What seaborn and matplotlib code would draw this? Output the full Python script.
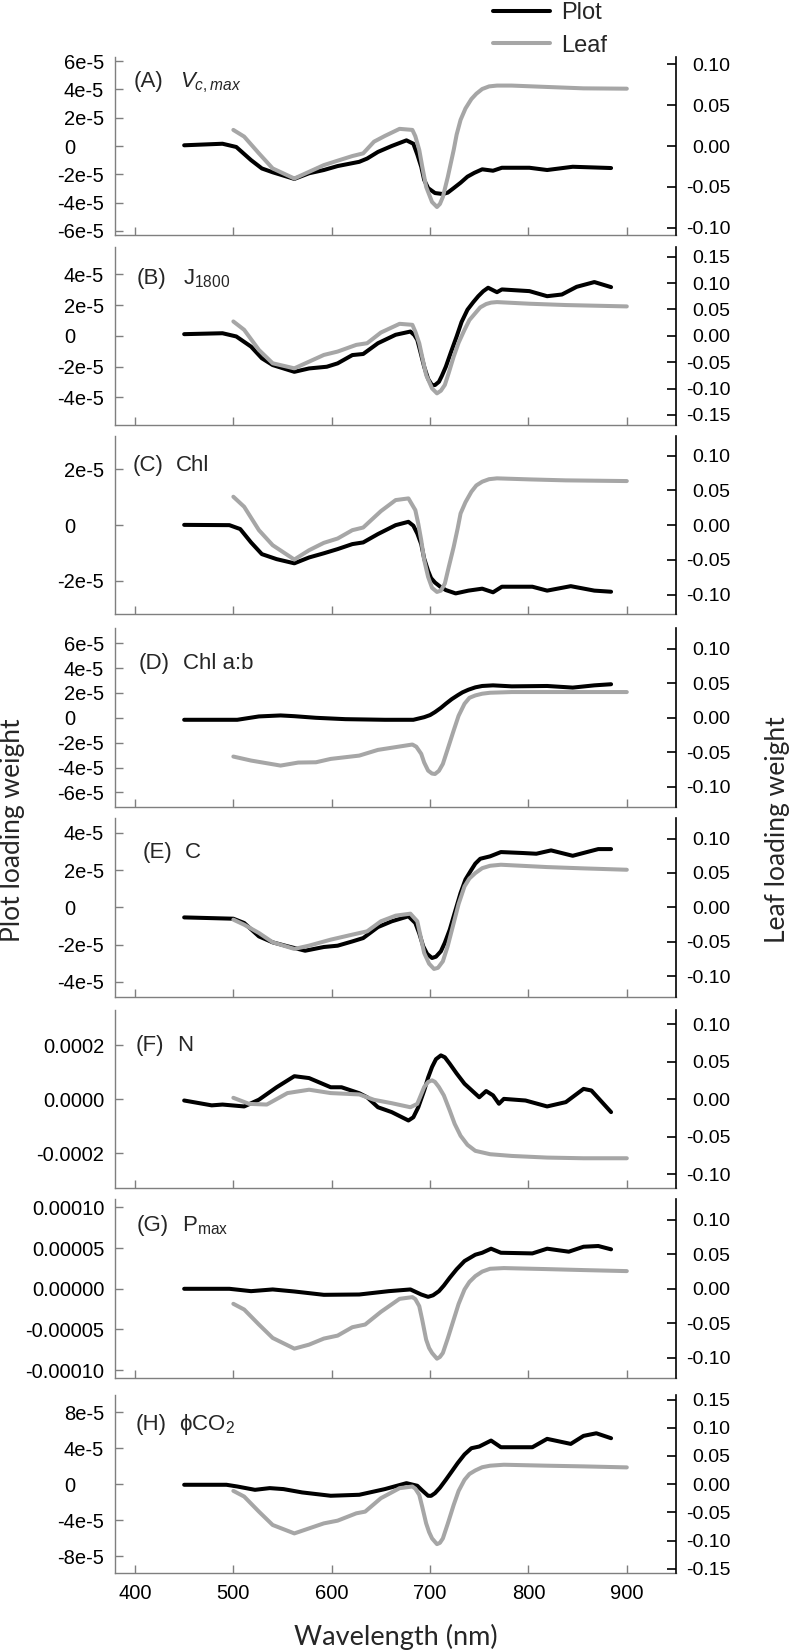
import numpy as np
import pandas as pd
import matplotlib
matplotlib.use("Agg")
import matplotlib.pyplot as plt
import seaborn as sns

sns.set_theme(style="ticks")
plt.rcParams['font.family'] = ['Liberation Sans', 'DejaVu Sans']
plt.rcParams['mathtext.fontset'] = 'custom'
plt.rcParams['mathtext.rm'] = 'Liberation Sans'
plt.rcParams['mathtext.it'] = 'Liberation Sans:italic'
plt.rcParams['mathtext.bf'] = 'Liberation Sans:bold'

# ---------------- data ----------------
series_names = ["Plot", "Leaf"]
panel_tags = ["(A)", "(B)", "(C)", "(D)", "(E)", "(F)", "(G)", "(H)"]
panel_names = [r"$V_{c,max}$", r"J$_{1800}$", "Chl", "Chl a:b", "C", "N",
               r"P$_{\mathrm{max}}$", "\u03d5CO$_2$"]

# Plot loading weights (units of 1e-5, panel F in 1e-4); Leaf loading weights
plot_wl_A = [450, 489, 503, 518, 529, 540, 562, 577, 592, 606, 628, 636, 647, 661, 676, 683, 687, 691, 694, 698, 705, 713, 718, 724, 731, 738, 745, 753, 764, 773, 801, 819, 845, 867, 884]
plot_A = [0.05, 0.16, -0.07, -1.0, -1.59, -1.86, -2.33, -1.93, -1.70, -1.42, -1.12, -0.89, -0.42, 0.0, 0.40, 0.16, -0.6, -1.47, -2.4, -2.98, -3.33, -3.40, -3.3, -2.98, -2.6, -2.17, -1.9, -1.65, -1.75, -1.54, -1.54, -1.70, -1.47, -1.52, -1.56]
leaf_wl_A = [500, 511, 526, 540, 562, 577, 592, 606, 621, 632, 643, 654, 669, 682, 685, 689, 692, 696, 702, 707, 710, 713, 718, 724, 727, 731, 736, 742, 747, 753, 760, 768, 783, 819, 856, 900]
leaf_A = [0.0197, 0.0115, -0.009, -0.0275, -0.0398, -0.0316, -0.0234, -0.018, -0.0123, -0.009, 0.0053, 0.0123, 0.021, 0.0197, 0.012, -0.0049, -0.025, -0.050, -0.0686, -0.0747, -0.071, -0.0624, -0.038, -0.0049, 0.014, 0.032, 0.046, 0.0575, 0.064, 0.0698, 0.073, 0.074, 0.074, 0.0723, 0.0706, 0.0702]

plot_wl_B = [450, 489, 503, 518, 529, 540, 562, 577, 595, 606, 621, 632, 647, 665, 680, 684, 687, 690, 694, 698, 702, 705, 709, 712, 716, 721, 727, 732, 738, 744, 749, 754, 759, 768, 773, 801, 819, 834, 849, 867, 884]
plot_B = [0.11, 0.17, -0.04, -0.70, -1.46, -1.90, -2.34, -2.12, -2.01, -1.79, -1.25, -1.18, -0.48, 0.07, 0.28, 0.05, -0.26, -1.0, -2.01, -2.8, -3.21, -3.2, -2.99, -2.6, -2.01, -1.1, -0.04, 0.9, 1.70, 2.2, 2.58, 2.9, 3.13, 2.84, 3.02, 2.91, 2.58, 2.69, 3.19, 3.50, 3.17]
leaf_wl_B = [500, 511, 526, 540, 562, 577, 592, 606, 625, 636, 650, 669, 682, 685, 689, 692, 696, 702, 707, 711, 715, 719, 724, 729, 735, 740, 746, 751, 757, 762, 768, 801, 838, 900]
leaf_B = [0.0273, 0.0114, -0.0267, -0.052, -0.0616, -0.0489, -0.0362, -0.0298, -0.0171, -0.0140, 0.0063, 0.0228, 0.0209, 0.008, -0.014, -0.04, -0.0742, -0.0996, -0.109, -0.104, -0.093, -0.07, -0.0393, -0.013, 0.0114, 0.03, 0.0431, 0.054, 0.0603, 0.063, 0.064, 0.0609, 0.0584, 0.0558]

plot_wl_C = [450, 496, 507, 518, 529, 544, 562, 577, 592, 606, 621, 632, 647, 665, 678, 683, 687, 691, 694, 698, 701, 705, 710, 716, 726, 739, 753, 764, 773, 804, 819, 843, 867, 884]
plot_C = [0.01, 0.0, -0.14, -0.62, -1.04, -1.22, -1.37, -1.16, -1.01, -0.86, -0.68, -0.62, -0.32, 0.0, 0.12, -0.02, -0.3, -0.68, -1.2, -1.64, -1.9, -2.06, -2.2, -2.33, -2.45, -2.35, -2.28, -2.41, -2.21, -2.21, -2.35, -2.19, -2.35, -2.39]
leaf_wl_C = [500, 511, 526, 540, 562, 577, 592, 606, 621, 632, 650, 665, 678, 685, 688, 691, 694, 698, 702, 707, 711, 715, 719, 724, 728, 731, 736, 742, 747, 753, 760, 768, 801, 838, 900]
leaf_C = [0.0408, 0.0264, -0.0072, -0.0288, -0.0494, -0.036, -0.0254, -0.0192, -0.0072, -0.0034, 0.0201, 0.036, 0.0384, 0.0216, 0.002, -0.0216, -0.05, -0.0743, -0.09, -0.0959, -0.094, -0.0839, -0.06, -0.0312, -0.005, 0.0168, 0.033, 0.048, 0.057, 0.0624, 0.066, 0.0672, 0.0657, 0.0643, 0.0633]

plot_wl_D = [450, 504, 526, 548, 562, 584, 614, 654, 683, 694, 700, 705, 711, 716, 722, 728, 733, 739, 746, 753, 764, 783, 819, 845, 867, 884]
plot_D = [-0.16, -0.16, 0.11, 0.19, 0.13, 0.0, -0.11, -0.16, -0.16, 0.05, 0.22, 0.46, 0.8, 1.13, 1.5, 1.81, 2.05, 2.26, 2.45, 2.56, 2.61, 2.53, 2.56, 2.43, 2.61, 2.70]
leaf_wl_D = [500, 518, 548, 566, 584, 599, 628, 647, 669, 682, 686, 691, 694, 698, 702, 705, 709, 713, 718, 724, 729, 735, 740, 746, 753, 761, 783, 900]
leaf_D = [-0.0563, -0.0621, -0.0694, -0.065, -0.0646, -0.0597, -0.0549, -0.0466, -0.0417, -0.0388, -0.042, -0.0524, -0.065, -0.0767, -0.081, -0.0816, -0.077, -0.067, -0.045, -0.0184, 0.003, 0.0204, 0.029, 0.0325, 0.035, 0.0364, 0.0374, 0.0374]

plot_wl_E = [450, 500, 511, 526, 540, 555, 573, 592, 606, 621, 632, 647, 661, 678, 685, 689, 693, 697, 702, 706, 711, 715, 720, 725, 731, 736, 742, 746, 751, 761, 772, 794, 808, 823, 845, 871, 884]
plot_E = [-0.54, -0.61, -0.84, -1.56, -1.88, -2.09, -2.33, -2.13, -2.06, -1.83, -1.65, -1.06, -0.75, -0.48, -0.84, -1.4, -2.09, -2.5, -2.72, -2.65, -2.36, -1.9, -1.20, -0.3, 0.77, 1.5, 2.02, 2.35, 2.61, 2.74, 2.97, 2.92, 2.88, 3.06, 2.77, 3.13, 3.13]
leaf_wl_E = [500, 511, 526, 540, 562, 577, 599, 621, 636, 650, 665, 680, 687, 690, 694, 699, 704, 708, 713, 718, 724, 729, 735, 740, 746, 753, 761, 772, 819, 856, 900]
leaf_E = [-0.0179, -0.0252, -0.0373, -0.0508, -0.0605, -0.0557, -0.047, -0.0397, -0.0349, -0.0203, -0.0121, -0.0092, -0.0203, -0.04, -0.0663, -0.082, -0.0896, -0.088, -0.0785, -0.056, -0.0228, 0.005, 0.0305, 0.042, 0.0499, 0.057, 0.0605, 0.062, 0.0586, 0.0567, 0.0547]

plot_wl_F = [450, 478, 489, 511, 526, 544, 562, 577, 599, 610, 628, 636, 647, 661, 678, 683, 688, 694, 698, 702, 706, 711, 715, 720, 727, 735, 750, 757, 764, 770, 775, 797, 819, 838, 856, 864, 884]
plot_F = [-0.05, -0.23, -0.20, -0.27, -0.02, 0.44, 0.85, 0.78, 0.44, 0.44, 0.22, 0.07, -0.30, -0.48, -0.79, -0.67, -0.3, 0.32, 0.8, 1.19, 1.48, 1.62, 1.55, 1.31, 0.95, 0.57, 0.07, 0.30, 0.14, -0.17, 0.01, -0.05, -0.27, -0.11, 0.38, 0.32, -0.48]
leaf_wl_F = [500, 516, 534, 555, 577, 599, 628, 643, 661, 680, 687, 694, 698, 702, 705, 709, 714, 720, 725, 731, 738, 746, 761, 783, 819, 856, 900]
leaf_F = [0.0018, -0.0063, -0.0072, 0.0081, 0.0126, 0.0081, 0.0063, -0.0009, -0.0054, -0.0108, -0.0063, 0.0161, 0.023, 0.0251, 0.023, 0.0161, 0.005, -0.0152, -0.033, -0.0489, -0.061, -0.069, -0.0735, -0.0758, -0.078, -0.0789, -0.0789]

plot_wl_G = [450, 496, 518, 540, 562, 592, 628, 658, 680, 691, 698, 703, 709, 714, 720, 727, 735, 746, 753, 762, 772, 804, 819, 841, 856, 871, 884]
plot_G = [0.0, 0.0, -0.29, -0.08, -0.33, -0.74, -0.70, -0.29, -0.08, -0.70, -0.99, -0.8, -0.29, 0.4, 1.36, 2.4, 3.41, 4.19, 4.43, 4.93, 4.43, 4.35, 4.93, 4.56, 5.17, 5.26, 4.85]
leaf_wl_G = [500, 511, 526, 540, 562, 577, 592, 606, 621, 634, 650, 669, 682, 685, 689, 692, 696, 699, 702, 707, 710, 713, 718, 724, 729, 735, 740, 746, 753, 761, 775, 819, 856, 900]
leaf_G = [-0.0218, -0.0301, -0.0519, -0.0714, -0.0869, -0.0811, -0.0723, -0.068, -0.0558, -0.0519, -0.0335, -0.0146, -0.0121, -0.015, -0.0252, -0.045, -0.0738, -0.086, -0.0932, -0.1015, -0.099, -0.0932, -0.072, -0.0447, -0.022, -0.001, 0.01, 0.0184, 0.025, 0.0291, 0.0301, 0.0286, 0.0272, 0.0257]

plot_wl_H = [450, 493, 504, 522, 537, 551, 570, 599, 628, 654, 676, 687, 692, 698, 701, 705, 710, 716, 722, 728, 735, 742, 750, 762, 772, 804, 819, 843, 856, 869, 884]
plot_H = [-0.07, -0.07, -0.26, -0.63, -0.44, -0.55, -0.92, -1.29, -1.18, -0.55, 0.11, -0.18, -0.7, -1.29, -1.3, -1.0, -0.4, 0.48, 1.4, 2.33, 3.3, 3.99, 4.18, 4.84, 4.10, 4.10, 5.03, 4.47, 5.36, 5.65, 5.10]
leaf_wl_H = [500, 511, 526, 540, 562, 577, 592, 606, 625, 634, 650, 669, 682, 685, 689, 692, 696, 699, 702, 707, 710, 713, 718, 724, 729, 735, 740, 746, 753, 761, 775, 819, 856, 900]
leaf_H = [-0.0119, -0.022, -0.0487, -0.0724, -0.0873, -0.0784, -0.0695, -0.0647, -0.0517, -0.0487, -0.0249, -0.0071, -0.0042, -0.008, -0.019, -0.04, -0.0695, -0.085, -0.0962, -0.1063, -0.104, -0.0962, -0.07, -0.0368, -0.012, 0.0077, 0.018, 0.0243, 0.03, 0.0327, 0.0344, 0.0327, 0.0315, 0.0297]

plot_units = [1e-5, 1e-5, 1e-5, 1e-5, 1e-5, 1e-4, 1e-5, 1e-5]

# axis ticks and labels
x_ticks = [400, 500, 600, 700, 800, 900]
x_ticklabels = ["400", "500", "600", "700", "800", "900"]

left_ticks = [
    [-6e-5, -4e-5, -2e-5, 0, 2e-5, 4e-5, 6e-5],
    [-4e-5, -2e-5, 0, 2e-5, 4e-5],
    [-2e-5, 0, 2e-5],
    [-6e-5, -4e-5, -2e-5, 0, 2e-5, 4e-5, 6e-5],
    [-4e-5, -2e-5, 0, 2e-5, 4e-5],
    [-0.0002, 0, 0.0002],
    [-0.0001, -0.00005, 0, 0.00005, 0.0001],
    [-8e-5, -4e-5, 0, 4e-5, 8e-5],
]
Z = "0     "
left_ticklabels = [
    ["-6e-5", "-4e-5", "-2e-5", Z, "2e-5", "4e-5", "6e-5"],
    ["-4e-5", "-2e-5", Z, "2e-5", "4e-5"],
    ["-2e-5", Z, "2e-5"],
    ["-6e-5", "-4e-5", "-2e-5", Z, "2e-5", "4e-5", "6e-5"],
    ["-4e-5", "-2e-5", Z, "2e-5", "4e-5"],
    ["-0.0002", "0.0000", "0.0002"],
    ["-0.00010", "-0.00005", "0.00000", "0.00005", "0.00010"],
    ["-8e-5", "-4e-5", Z, "4e-5", "8e-5"],
]
left_lims = [6.3e-5, 5.8e-5, 3.2e-5, 7.2e-5, 4.8e-5, 0.00033, 0.00011, 9.9e-5]

right_ticks_10 = [-0.10, -0.05, 0.0, 0.05, 0.10]
right_labels_10 = ["-0.10", "-0.05", "0.00", "0.05", "0.10"]
right_ticks_15 = [-0.15, -0.10, -0.05, 0.0, 0.05, 0.10, 0.15]
right_labels_15 = ["-0.15", "-0.10", "-0.05", "0.00", "0.05", "0.10", "0.15"]
right_lims = [0.109, 0.169, 0.128, 0.13, 0.13, 0.119, 0.13, 0.158]

plot_wls = [plot_wl_A, plot_wl_B, plot_wl_C, plot_wl_D, plot_wl_E, plot_wl_F, plot_wl_G, plot_wl_H]
plot_vals = [plot_A, plot_B, plot_C, plot_D, plot_E, plot_F, plot_G, plot_H]
leaf_wls = [leaf_wl_A, leaf_wl_B, leaf_wl_C, leaf_wl_D, leaf_wl_E, leaf_wl_F, leaf_wl_G, leaf_wl_H]
leaf_vals = [leaf_A, leaf_B, leaf_C, leaf_D, leaf_E, leaf_F, leaf_G, leaf_H]

# ---------------- layout (pixels) ----------------
FW, FH = 790, 1651
AX_L, AX_R = 115.3, 676.0
tops = [57, 246.7, 436, 628.3, 818, 1010, 1199.3, 1395]
bots = [235, 425, 614.3, 807.3, 996.7, 1188.3, 1378.3, 1573.3]
tag_x = [133.3, 137, 132.7, 139, 143, 136, 137, 136]
name_x = [180, 183, 176, 183, 185, 177, 182, 179]
tag_base = [87.3, 284, 470.7, 669.3, 858.3, 1050.7, 1231, 1430]

BLACK = "#000000"
GRAY = "#a6a6a6"
AXGRAY = "#7f7f7f"
LW = 2.9
line_kw = dict(solid_joinstyle="round", solid_capstyle="round")

fig = plt.figure(figsize=(FW / 100, FH / 100), dpi=100)
first_lines = None
for i in range(8):
    ax = fig.add_axes([AX_L / FW, 1 - bots[i] / FH, (AX_R - AX_L) / FW, (bots[i] - tops[i]) / FH])
    ax2 = ax.twinx()
    dp = pd.DataFrame({"wl": plot_wls[i], "v": np.array(plot_vals[i]) * plot_units[i]})
    dl = pd.DataFrame({"wl": leaf_wls[i], "v": leaf_vals[i]})
    sns.lineplot(data=dp, x="wl", y="v", ax=ax, color=BLACK, lw=LW, legend=False,
                 estimator=None, sort=False, **line_kw)
    sns.lineplot(data=dl, x="wl", y="v", ax=ax2, color=GRAY, lw=LW, legend=False,
                 estimator=None, sort=False, **line_kw)
    if i == 0:
        first_lines = [ax.get_lines()[0], ax2.get_lines()[0]]
    ax.set_xlim(380, 950)
    ax.set_ylim(-left_lims[i], left_lims[i])
    ax2.set_ylim(-right_lims[i], right_lims[i])
    ax.set_xlabel("")
    ax.set_ylabel("")
    ax2.set_xlabel("")
    ax2.set_ylabel("")

    ax.set_xticks(x_ticks)
    ax.set_xticklabels(x_ticklabels if i == 7 else [""] * len(x_ticks))
    ax.set_yticks(left_ticks[i])
    ax.set_yticklabels(left_ticklabels[i])
    if i in (1, 7):
        ax2.set_yticks(right_ticks_15)
        ax2.set_yticklabels(right_labels_15)
    else:
        ax2.set_yticks(right_ticks_10)
        ax2.set_yticklabels(right_labels_10)

    for s in ["top", "right"]:
        ax.spines[s].set_visible(False)
    for s in ["left", "bottom"]:
        ax.spines[s].set_color(AXGRAY)
        ax.spines[s].set_linewidth(1.0)
    for s in ["top", "left", "bottom"]:
        ax2.spines[s].set_visible(False)
    ax2.spines["right"].set_color(BLACK)
    ax2.spines["right"].set_linewidth(1.2)

    ax.tick_params(axis="x", direction="in", length=5.5, width=1.0, color=AXGRAY,
                   labelsize=14.5, labelcolor="black", pad=8)
    ax.tick_params(axis="y", direction="in", length=6, width=1.0, color=AXGRAY,
                   labelsize=14.5, labelcolor="black", pad=8)
    ax2.tick_params(axis="y", direction="in", length=6.5, width=1.2, color=BLACK,
                    labelsize=14, labelcolor="black", pad=39)
    for t in ax2.get_yticklabels():
        t.set_horizontalalignment("right")

    fig.text(tag_x[i] / FW, 1 - tag_base[i] / FH, panel_tags[i], fontsize=16,
             ha="left", va="baseline")
    fig.text(name_x[i] / FW, 1 - tag_base[i] / FH, panel_names[i], fontsize=16,
             ha="left", va="baseline")

# axis titles
LABEL_FONT = ["Lato", "DejaVu Sans"]
fig.text(12.5 / FW, 1 - 830 / FH, "Plot loading weight", rotation=90, ha="center",
         va="center", fontsize=19, family=LABEL_FONT)
fig.text(777 / FW, 1 - 830 / FH, "Leaf loading weight", rotation=90, ha="center",
         va="center", fontsize=19, family=LABEL_FONT)
fig.text(396 / FW, 1 - 1637 / FH, "Wavelength (nm)", ha="center", va="center",
         fontsize=19.5, family=LABEL_FONT)

fig.legend(first_lines, series_names, loc="upper left", bbox_to_anchor=(493 / FW, 1 - 2 / FH),
           frameon=False, fontsize=17, handlelength=2.4, handletextpad=0.5,
           labelspacing=0.45, borderpad=0, borderaxespad=0)

fig.savefig("out.png", dpi=100)
